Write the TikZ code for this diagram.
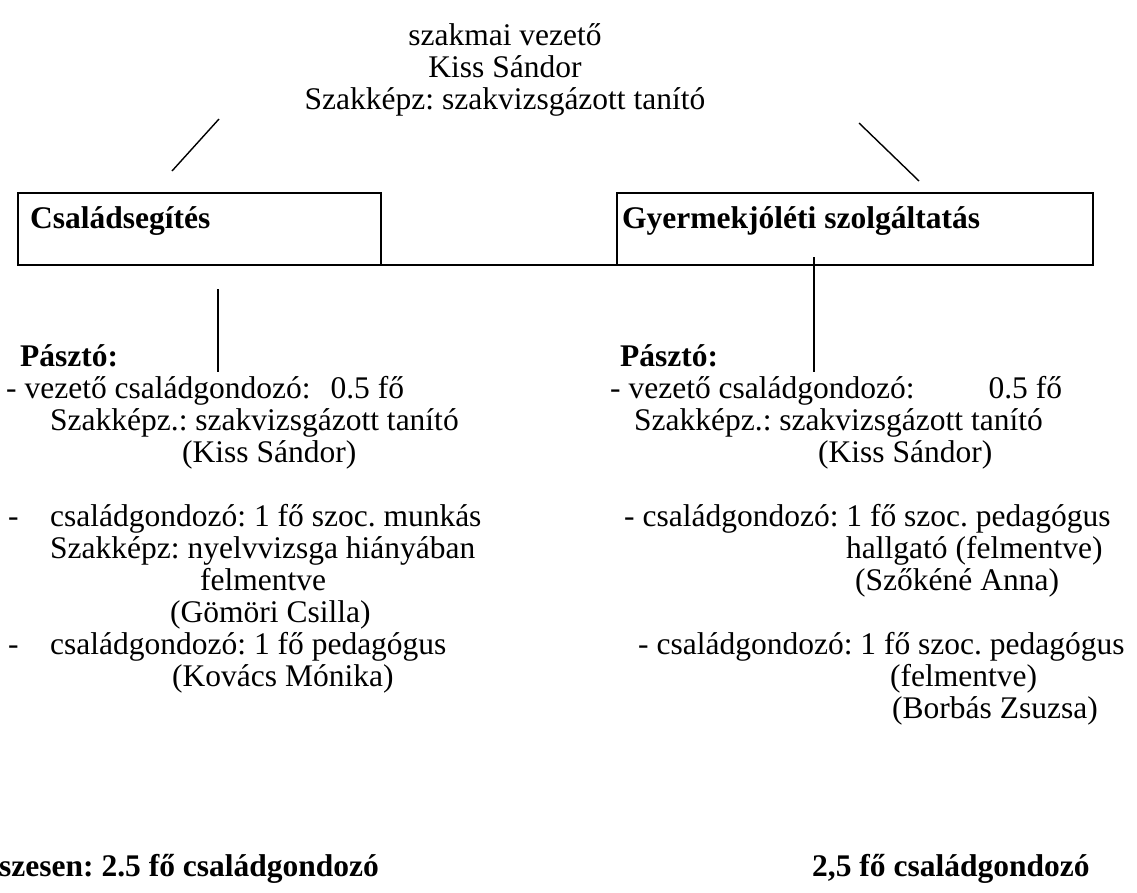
\documentclass[tikz,border=0pt]{standalone}
\usepackage{fontspec}
\setmainfont{Liberation Serif}
\frenchspacing
\begin{document}
\begin{tikzpicture}[x=1pt,y=-1pt,
  txt/.style={font=\fontsize{31.5}{32}\selectfont, inner sep=0pt, anchor=base west},
  ttl/.style={font=\fontsize{31.5}{32}\selectfont, inner sep=0pt, anchor=base},
  hd/.style={font=\fontsize{31.5}{32}\selectfont\bfseries, inner sep=0pt, anchor=base west},
  unit/.style={draw, line width=2pt, inner sep=0pt, outer sep=0pt, anchor=north west},
  link/.style={line width=1.4pt}]
\useasboundingbox (0,0) rectangle (1137,892);
\clip (0,0) rectangle (1137,892);

% head of the service
\node[ttl] (t1) at (505,45) {szakmai vezető};
\node[ttl] (t2) at (505,77) {Kiss Sándor};
\node[ttl] (t3) at (505,109) {Szakképz: szakvizsgázott tanító};

% the two units
\node[unit, minimum width=363pt, minimum height=72pt] (csb) at (18,193) {};
\node[unit, minimum width=476pt, minimum height=72pt] (gyb) at (617,193) {};
\node[hd] (cst) at (30,228) {Családsegítés};
\node[hd] (gyt) at (622,228) {Gyermekjóléti szolgáltatás};
\draw[line width=2pt] (csb.south east) -- (gyb.south west);

% branches from the head
\coordinate (la) at (219,119); \coordinate (lb) at (172,171);
\coordinate (ra) at (859,123); \coordinate (rb) at (919,181);
\draw[link] (la) -- (lb);
\draw[link] (ra) -- (rb);

% links down to the staff lists
\coordinate (lv1) at (218,289); \coordinate (lv2) at (218,372);
\coordinate (rv1) at (814,257); \coordinate (rv2) at (814,372);
\draw[line width=1.6pt] (lv1) -- (lv2);
\draw[line width=1.6pt] (rv1) -- (rv2);

% Családsegítés staff
\node[hd] (lp) at (20,366) {Pásztó:};
\node[txt] (l1) at (6,398) {- vezető családgondozó:\hspace{20pt}0.5 fő};
\node[txt] (l2) at (50,430) {Szakképz.: szakvizsgázott tanító};
\node[txt] (l3) at (182,462) {(Kiss Sándor)};
\node[txt] (l4a) at (8,526) {-};
\node[txt] (l4) at (50,526) {családgondozó: 1 fő szoc. munkás};
\node[txt] (l5) at (50,558) {Szakképz: nyelvvizsga hiányában};
\node[txt] (l6) at (200,590) {felmentve};
\node[txt] (l7) at (170,622) {(Gömöri Csilla)};
\node[txt] (l8a) at (8,654) {-};
\node[txt] (l8) at (50,654) {családgondozó: 1 fő pedagógus};
\node[txt] (l9) at (172,686) {(Kovács Mónika)};

% Gyermekjóléti szolgáltatás staff
\node[hd] (rp) at (620,366) {Pásztó:};
\node[txt] (r1) at (610,398) {- vezető családgondozó:\hspace{74pt}0.5 fő};
\node[txt] (r2) at (634,430) {Szakképz.: szakvizsgázott tanító};
\node[txt] (r3) at (818,462) {(Kiss Sándor)};
\node[txt] (r4) at (624,526) {- családgondozó: 1 fő szoc. pedagógus};
\node[txt] (r5) at (846,558) {hallgató (felmentve)};
\node[txt] (r6) at (855,590) {(Szőkéné Anna)};
\node[txt] (r7) at (638,654) {- családgondozó: 1 fő szoc. pedagógus};
\node[txt] (r8) at (890,686) {(felmentve)};
\node[txt] (r9) at (892,718) {(Borbás Zsuzsa)};

% totals
\node[hd] (sl) at (-1,876) {szesen: 2.5 fő családgondozó};
\node[hd] (sr) at (812,876) {2,5 fő családgondozó};
\end{tikzpicture}
\end{document}
